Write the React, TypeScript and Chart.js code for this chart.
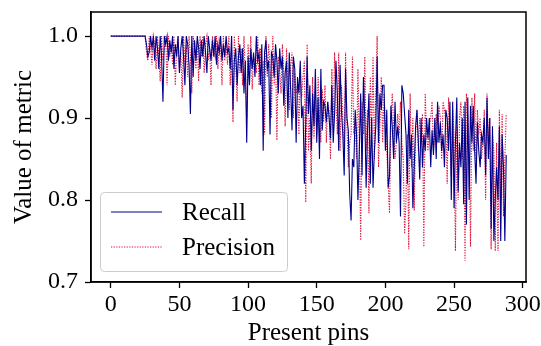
import React, { useEffect, useRef } from "react";
import { Chart, registerables } from "chart.js";

Chart.register(...registerables);

const recall: number[] = [
  1, 1, 1, 1, 1, 1, 1, 1, 1, 1, 1, 1, 1, 1, 1, 1, 1, 1, 1, 1, 1, 1, 1, 1, 1, 1,
  0.99, 0.975, 0.98, 1, 0.985, 1, 0.97, 1, 0.985, 0.96,
  1, 0.975, 0.92, 1, 0.99, 1, 0.97, 0.995, 0.98, 1,
  0.96, 0.99, 0.975, 1, 0.955, 0.985, 1, 0.975, 0.94, 1,
  0.99, 0.965, 0.905, 1, 0.95, 0.995, 0.97, 1, 0.985, 0.96,
  0.995, 0.975, 1, 0.98, 0.955, 1, 0.985, 0.97, 0.995, 0.975,
  1, 0.965, 0.99, 0.98, 1, 0.97, 0.99, 0.975, 1, 0.98,
  0.985, 0.96, 1, 0.91, 0.97, 0.985, 0.94, 0.975, 0.99, 0.955,
  0.985, 0.93, 0.97, 0.87, 0.975, 0.94, 0.985, 0.96, 0.98, 0.95,
  1, 0.97, 0.98, 0.94, 0.99, 0.86, 0.98, 0.995, 0.96, 0.97,
  0.88, 0.98, 0.975, 0.95, 0.99, 0.97, 0.93, 0.985, 0.96, 0.975,
  0.915, 0.955, 0.97, 0.9, 0.98, 0.935, 0.885, 0.975, 0.96, 0.87,
  0.95, 0.93, 0.97, 0.9, 0.915, 0.82, 0.895, 0.975, 0.905, 0.94,
  0.86, 0.93, 0.89, 0.96, 0.87, 0.925, 0.85, 0.96, 0.885, 0.92,
  0.915, 0.895, 0.92, 0.9, 0.875, 0.94, 0.87, 0.905, 0.97, 0.93,
  0.86, 0.965, 0.91, 0.88, 0.83, 0.96, 0.9, 0.885, 0.808, 0.775,
  0.85, 0.84, 0.91, 0.88, 0.8, 0.86, 0.93, 0.83, 0.95, 0.9,
  0.815, 0.885, 0.93, 0.82, 0.9, 0.815, 0.86, 0.89, 0.975, 0.87,
  0.93, 0.91, 0.94, 0.94, 0.86, 0.91, 0.815, 0.83, 0.915, 0.89,
  0.85, 0.92, 0.87, 0.89, 0.87, 0.78, 0.94, 0.93, 0.905, 0.88,
  0.82, 0.91, 0.85, 0.88, 0.79, 0.84, 0.89, 0.91, 0.87, 0.825,
  0.9, 0.84, 0.88, 0.86, 0.9, 0.875, 0.9, 0.84, 0.885, 0.855,
  0.9, 0.85, 0.92, 0.87, 0.895, 0.86, 0.88, 0.84, 0.91, 0.9,
  0.86, 0.92, 0.8, 0.92, 0.79, 0.87, 0.925, 0.81, 0.87, 0.84,
  0.9, 0.795, 0.92, 0.77, 0.925, 0.8, 0.915, 0.87, 0.915, 0.86,
  0.82, 0.895, 0.86, 0.84, 0.88, 0.87, 0.9, 0.83, 0.925, 0.85,
  0.9, 0.765, 0.89, 0.75, 0.8, 0.84, 0.8, 0.89, 0.75, 0.88,
  0.84, 0.75, 0.855,
];

const precision: number[] = [
  1, 1, 1, 1, 1, 1, 1, 1, 1, 1, 1, 1, 1, 1, 1, 1, 1, 1, 1, 1, 1, 1, 1, 1, 1, 1,
  0.98, 0.97, 1, 0.985, 0.965, 1, 0.99, 0.96, 1, 0.975,
  0.945, 1, 0.97, 0.985, 1, 0.94, 1, 0.975, 0.99, 0.965,
  1, 0.94, 0.985, 1, 0.96, 0.98, 0.925, 1, 0.965, 0.99,
  0.95, 1, 0.975, 0.93, 1, 0.985, 0.96, 0.995, 0.945, 1,
  0.975, 1, 0.955, 0.99, 1, 0.97, 0.985, 0.94, 1, 0.985,
  0.975, 1, 0.96, 0.995, 0.985, 0.94, 1, 0.97, 0.99, 0.965,
  1, 0.94, 0.985, 0.895, 1, 0.965, 0.92, 1, 0.955, 0.985,
  0.94, 1, 0.95, 0.9, 0.99, 0.96, 1, 0.935, 0.975, 0.97,
  0.955, 1, 0.94, 0.985, 0.93, 0.97, 0.88, 1, 0.95, 0.99,
  0.96, 0.9, 1, 0.94, 0.98, 0.873, 0.975, 0.96, 0.93, 0.99,
  0.955, 0.89, 0.985, 0.945, 0.91, 0.965, 0.98, 0.9, 0.955, 0.93,
  0.94, 0.88, 0.96, 0.925, 0.95, 0.97, 0.797, 0.99, 0.86, 0.9,
  0.82, 0.95, 0.875, 0.93, 0.88, 0.95, 0.9, 0.87, 0.935, 0.895,
  0.94, 0.87, 0.92, 0.91, 0.85, 0.96, 0.89, 0.98, 0.92, 0.88,
  0.98, 0.86, 0.94, 0.9, 0.855, 0.98, 0.89, 0.84, 0.87, 0.88,
  0.975, 0.88, 0.9, 0.85, 0.96, 0.87, 0.751, 0.92, 0.88, 0.975,
  0.86, 0.91, 0.784, 0.95, 0.88, 0.975, 0.85, 0.93, 1.0, 0.84,
  0.89, 0.95, 0.87, 0.93, 0.895, 0.86, 0.82, 0.784, 0.9, 0.93,
  0.89, 0.85, 0.87, 0.905, 0.88, 0.92, 0.87, 0.85, 0.759, 0.8,
  0.88, 0.74, 0.93, 0.84, 0.9, 0.787, 0.88, 0.91, 0.86, 0.9,
  0.87, 0.905, 0.743, 0.93, 0.88, 0.86, 0.89, 0.9, 0.92, 0.86,
  0.88, 0.905, 0.87, 0.915, 0.9, 0.85, 0.92, 0.91, 0.895, 0.82,
  0.925, 0.89, 0.83, 0.91, 0.88, 0.738, 0.89, 0.8, 0.9, 0.92,
  0.85, 0.915, 0.726, 0.93, 0.9, 0.87, 0.743, 0.925, 0.86, 0.93,
  0.84, 0.91, 0.88, 0.9, 0.85, 0.87, 0.91, 0.8, 0.93, 0.87,
  0.9, 0.74, 0.88, 0.86, 0.738, 0.87, 0.738, 0.91, 0.8, 0.905,
  0.78, 0.85, 0.905,
];

const xTicks: number[] = [0, 50, 100, 150, 200, 250, 300];
const yTicks: number[] = [0.7, 0.8, 0.9, 1.0];
const seriesNames: string[] = ["Recall", "Precision"];
const seriesColors: string[] = ["#00008b", "#dc143c"];

const FONT = "'Liberation Serif', 'Times New Roman', serif";
const TICK_SIZE = 24;
const TITLE_SIZE = 25;

const framePlugin = {
  id: "frameAndLegend",
  afterDraw(chart: any) {
    const { ctx, chartArea } = chart;
    ctx.save();
    ctx.strokeStyle = "#000";
    ctx.lineWidth = 1.5;
    ctx.strokeRect(chartArea.left, chartArea.top, chartArea.right - chartArea.left, chartArea.bottom - chartArea.top);

    // legend box
    const bx = 100.5, by = 192.5, bw = 187, bh = 79, r = 4;
    ctx.beginPath();
    ctx.moveTo(bx + r, by);
    ctx.lineTo(bx + bw - r, by);
    ctx.quadraticCurveTo(bx + bw, by, bx + bw, by + r);
    ctx.lineTo(bx + bw, by + bh - r);
    ctx.quadraticCurveTo(bx + bw, by + bh, bx + bw - r, by + bh);
    ctx.lineTo(bx + r, by + bh);
    ctx.quadraticCurveTo(bx, by + bh, bx, by + bh - r);
    ctx.lineTo(bx, by + r);
    ctx.quadraticCurveTo(bx, by, bx + r, by);
    ctx.closePath();
    ctx.fillStyle = "rgba(255,255,255,0.8)";
    ctx.fill();
    ctx.strokeStyle = "#cccccc";
    ctx.lineWidth = 1;
    ctx.stroke();

    const rows = [212, 247];
    seriesNames.forEach((name, i) => {
      const y = rows[i];
      ctx.beginPath();
      ctx.strokeStyle = seriesColors[i];
      ctx.lineWidth = 1.1;
      ctx.setLineDash(i === 1 ? [1.3, 1.3] : []);
      ctx.moveTo(111, y);
      ctx.lineTo(162, y);
      ctx.stroke();
      ctx.setLineDash([]);
      ctx.fillStyle = "#000";
      ctx.font = `25px ${FONT}`;
      ctx.textBaseline = "middle";
      ctx.textAlign = "left";
      ctx.fillText(name, 182, y + 1);
    });
    ctx.restore();
  },
};

export default function App() {
  const ref = useRef<HTMLCanvasElement | null>(null);

  useEffect(() => {
    if (!ref.current) return;
    const chart = new Chart(ref.current, {
      type: "line",
      data: {
        datasets: [
          {
            label: seriesNames[0],
            data: recall.map((v, i) => ({ x: i, y: v })),
            borderColor: seriesColors[0],
            borderWidth: 1.1,
            pointRadius: 0,
            fill: false,
            tension: 0,
          },
          {
            label: seriesNames[1],
            data: precision.map((v, i) => ({ x: i, y: v })),
            borderColor: seriesColors[1],
            borderWidth: 1.1,
            borderDash: [1.3, 1.3],
            pointRadius: 0,
            fill: false,
            tension: 0,
          },
        ],
      },
      options: {
        animation: false,
        responsive: false,
        devicePixelRatio: 1,
        layout: { padding: { top: 12, right: 15, left: 0, bottom: 0 } },
        plugins: { legend: { display: false }, tooltip: { enabled: false } },
        scales: {
          x: {
            type: "linear",
            min: -14.4,
            max: 302.4,
            afterBuildTicks: (s: any) => {
              s.ticks = xTicks.map((v) => ({ value: v }));
            },
            afterFit: (s: any) => {
              s.height = 64;
              s.paddingLeft = 0;
              s.paddingRight = 0;
            },
            ticks: {
              color: "#000",
              font: { family: FONT, size: TICK_SIZE },
              padding: 2,
              maxRotation: 0,
              callback: (v: any) => String(v),
            },
            grid: { drawOnChartArea: false, drawTicks: true, tickLength: 6, tickColor: "#000", tickWidth: 1.3 },
            border: { display: true, color: "#000", width: 1.5 },
            title: {
              display: true,
              text: "Present pins",
              color: "#000",
              font: { family: FONT, size: TITLE_SIZE, lineHeight: 1 },
              padding: { top: -2, bottom: 0 },
            },
          },
          y: {
            type: "linear",
            min: 0.7,
            max: 1.0294,
            afterBuildTicks: (s: any) => {
              s.ticks = yTicks.map((v) => ({ value: v }));
            },
            afterFit: (s: any) => {
              s.width = 91;
              s.paddingTop = 0;
              s.paddingBottom = 0;
            },
            ticks: {
              color: "#000",
              font: { family: FONT, size: TICK_SIZE },
              padding: 7,
              callback: (v: any) => Number(v).toFixed(1),
            },
            grid: { drawOnChartArea: false, drawTicks: true, tickLength: 6, tickColor: "#000", tickWidth: 1.3 },
            border: { display: true, color: "#000", width: 1.5 },
            title: {
              display: true,
              text: "Value of metric",
              color: "#000",
              font: { family: FONT, size: TITLE_SIZE, lineHeight: 1 },
              padding: { top: 12, bottom: 0 },
            },
          },
        },
      },
      plugins: [framePlugin],
    });
    return () => chart.destroy();
  }, []);

  return (
    <div style={{ position: "absolute", left: 0, top: 0, width: 541, height: 346, background: "#fff" }}>
      <canvas ref={ref} width={541} height={346} style={{ display: "block" }} />
    </div>
  );
}
